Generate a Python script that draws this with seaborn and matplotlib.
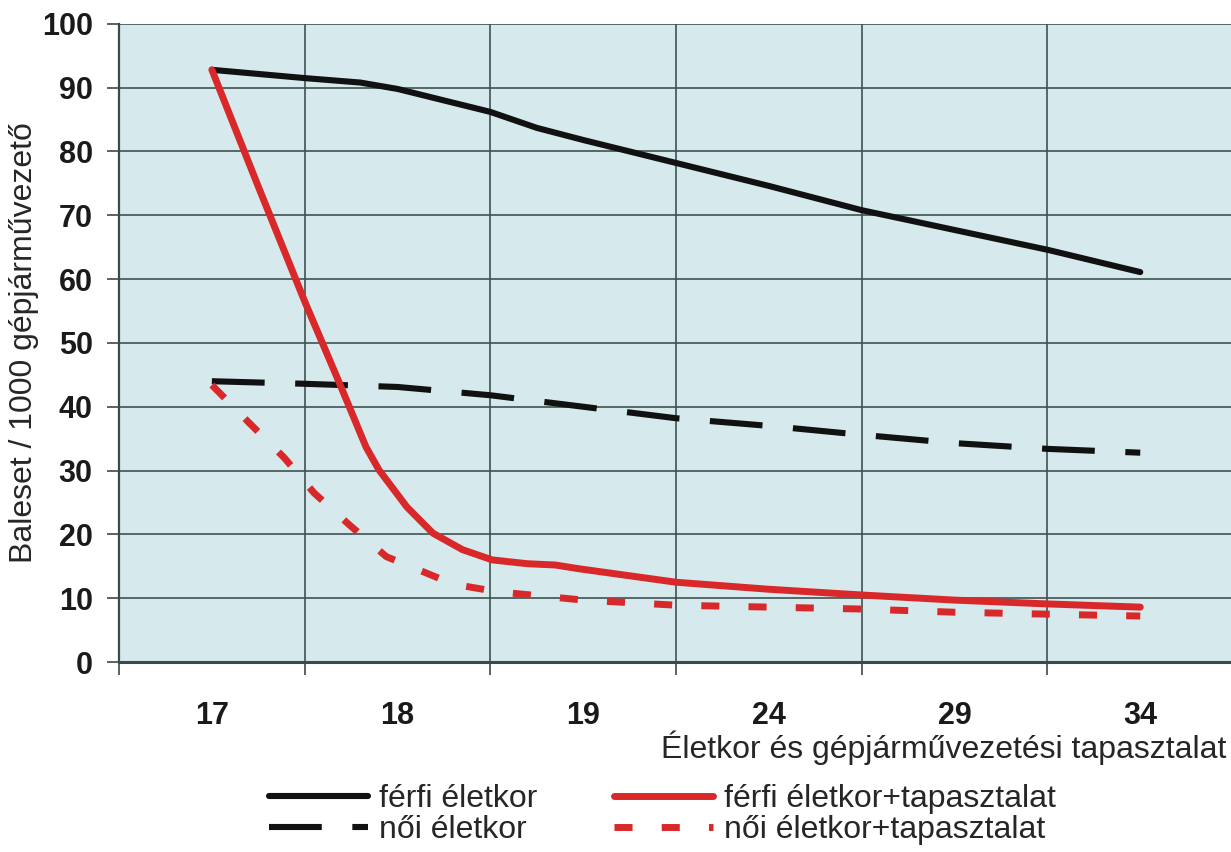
import numpy as np
import pandas as pd
import seaborn as sns
import matplotlib.pyplot as plt

# korcsoportok (kategoriák) es a gorbek mintapontjai (x = kategoria index)
age_labels = ['17', '18', '19', '24', '29', '34']

ferfi_x = [0, 0.5, 0.8, 1.0, 1.25, 1.5, 1.75, 2.0, 2.5, 3.0, 3.5, 4.0, 4.5, 5.0]
ferfi_y = [92.8, 91.5, 90.8, 89.8, 88.0, 86.2, 83.7, 81.8, 78.2, 74.6, 70.8, 67.7, 64.6, 61.1]

noi_x = [0, 0.5, 1.0, 1.5, 2.0, 2.5, 3.0, 3.5, 4.0, 4.5, 5.0]
noi_y = [44.0, 43.6, 43.1, 41.8, 40.0, 38.2, 37.0, 35.6, 34.3, 33.4, 32.8]

ferfi_tap_x = [0, 0.25, 0.5, 0.68, 0.83, 0.9, 1.05, 1.19, 1.35, 1.51, 1.7, 1.85, 1.98, 2.5, 3.0, 3.5, 4.0, 4.5, 5.0]
ferfi_tap_y = [92.8, 74.5, 56.5, 44.2, 33.7, 30.1, 24.3, 20.2, 17.6, 16.0, 15.4, 15.2, 14.6, 12.5, 11.4, 10.5, 9.7, 9.1, 8.6]

noi_tap_x = [0, 0.2, 0.39, 0.55, 0.74, 0.94, 1.05, 1.3, 1.54, 1.79, 2.0, 2.5, 3.0, 3.5, 4.0, 4.5, 5.0]
noi_tap_y = [43.4, 37.5, 32.0, 26.5, 21.5, 16.5, 15.2, 12.2, 11.0, 10.3, 9.7, 8.9, 8.6, 8.3, 7.8, 7.5, 7.2]

black = '#111111'
red = '#d8282a'

sns.set_style('white')
plt.rcParams['font.family'] = ['Liberation Sans', 'DejaVu Sans']
plt.rcParams['lines.scale_dashes'] = False

fig = plt.figure(figsize=(12.31, 8.52), dpi=100)
ax = fig.add_axes([0.0967, 0.223, 0.905, 0.749])
ax.set_facecolor('#d6e9ec')

sns.lineplot(x=ferfi_x, y=ferfi_y, ax=ax, color=black, lw=4.4, label='férfi életkor')
sns.lineplot(x=noi_x, y=noi_y, ax=ax, color=black, lw=4.4, label='női életkor')
sns.lineplot(x=ferfi_tap_x, y=ferfi_tap_y, ax=ax, color=red, lw=5, label='férfi életkor+tapasztalat')
sns.lineplot(x=noi_tap_x, y=noi_tap_y, ax=ax, color=red, lw=5, label='női életkor+tapasztalat')

lines = ax.get_lines()
lines[1].set_dashes((38, 22))
lines[3].set_dashes((13, 21))
for ln in lines:
    ln.set_solid_capstyle('round')
    ln.set_solid_joinstyle('round')
lines[1].set_dash_capstyle('butt')
lines[3].set_dash_capstyle('butt')

ax.set_xlim(-0.5, 5.5)
ax.set_ylim(0, 100)
ax.set_xticks(range(len(age_labels)))
ax.set_xticklabels(age_labels, fontsize=22, fontweight='bold')
ax.set_xticks(np.arange(-0.5, 5.6, 1), minor=True)
ax.set_yticks(range(0, 101, 10))
ax.set_yticklabels([str(v) for v in range(0, 101, 10)], fontsize=22, fontweight='bold')
ax.tick_params(axis='x', which='major', length=0, pad=28, colors='#1a1a1a')
ax.tick_params(axis='x', which='minor', length=9, width=1.2, color='#3a4a4a', bottom=True)
ax.tick_params(axis='y', length=9, width=1.2, color='#3a4a4a', pad=10, left=True, colors='#1a1a1a')
ax.tick_params(axis='y', color='#3a4a4a')

ax.grid(True, which='minor', axis='x', color='#3e5252', lw=1.2)
ax.grid(True, which='major', axis='y', color='#3e5252', lw=1.2)
ax.set_axisbelow(True)

for s in ['top', 'right']:
    ax.spines[s].set_visible(False)
ax.spines['left'].set_color('#3a4a4a')
ax.spines['left'].set_linewidth(1.6)
ax.spines['bottom'].set_color('#3a4a4a')
ax.spines['bottom'].set_linewidth(2.2)

ax.set_ylabel('Baleset / 1000 gépjárművezető', fontsize=23, labelpad=2)
ax.set_xlabel('')
fig.text(0.996, 0.122, 'Életkor és gépjárművezetési tapasztalat', ha='right', va='center', fontsize=23)

ax.get_legend().remove()
handles, labels = ax.get_legend_handles_labels()
fig.legend(handles, labels, ncol=2, loc='center', bbox_to_anchor=(0.538, 0.044),
           frameon=False, prop={'size': 23},
           handlelength=3.1, handletextpad=0.35, columnspacing=2.4, labelspacing=0.05)

fig.savefig('out.png', dpi=100)
